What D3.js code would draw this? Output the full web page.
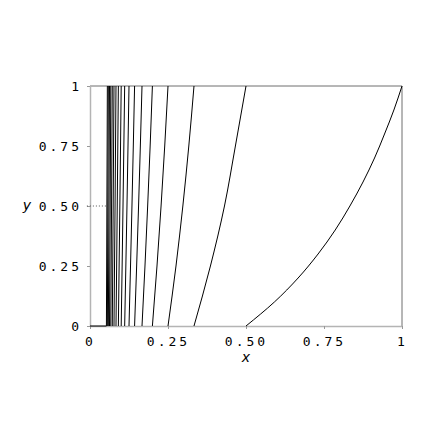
<!DOCTYPE html>
<html lang="en">
<head>
<meta charset="utf-8">
<script src="https://d3js.org/d3.v7.min.js"></script>
<style>
	body { margin: 0; background: #fff; }
	svg { background: #fff; }
	.curve { fill: none; stroke: #000; stroke-width: 1px; }
	.tick text { font-family: 'DejaVu Sans Mono', monospace; font-size: 13px; letter-spacing: 3px; fill: #000; }
	.tick line { stroke: #999; }
	.domain { stroke: #b4b4b4; stroke-width: 1.5px; }
	.frame { stroke: #6e6e6e; stroke-width: 1px; }
	.axis-label { font-family: 'DejaVu Sans', sans-serif; font-style: italic; font-size: 14px; }
</style>
</head>
<body>
<div id="chart"></div>
<script>

var width = 436, height = 436;

// the big curve on the right, read at finer y steps
var yLevelsFine = [0, 0.1, 0.2, 0.3, 0.4, 0.5, 0.6, 0.7, 0.8, 0.9, 1];
var firstCurveX = [0.5, 0.591, 0.667, 0.731, 0.786, 0.833, 0.875, 0.912, 0.944, 0.974, 1];

// the rest of the curves, read at these y levels
var yLevels = [0, 0.25, 0.5, 0.75, 1];
var curveX = [
	[0.3333, 0.386, 0.431, 0.466, 0.5],
	[0.25, 0.2756, 0.2976, 0.3167, 0.3333],
	[0.2, 0.2147, 0.2278, 0.2395, 0.25],
	[0.1667, 0.1762, 0.1848, 0.1928, 0.2],
	[0.1429, 0.1495, 0.1557, 0.1614, 0.1667],
	[0.125, 0.1299, 0.1345, 0.1388, 0.1429],
	[0.1111, 0.1149, 0.1185, 0.1218, 0.125],
	[0.1, 0.103, 0.1058, 0.1085, 0.1111],
	[0.0909, 0.0933, 0.0957, 0.0979, 0.1],
	[0.0833, 0.0854, 0.0873, 0.0891, 0.0909],
	[0.0769, 0.0786, 0.0803, 0.0818, 0.0833],
	[0.0714, 0.0729, 0.0743, 0.0756, 0.0769],
	[0.0667, 0.0679, 0.0691, 0.0703, 0.0714],
	[0.0625, 0.0636, 0.0647, 0.0657, 0.0667],
	[0.0588, 0.0598, 0.0607, 0.0616, 0.0625],
	[0.0556, 0.0564, 0.0572, 0.0580, 0.0588],
	[0.0526, 0.0534, 0.0541, 0.0549, 0.0556]
];

// short segments near x = 0
var baseSegX = [0, 0.0526];
var baseSegY = 0;
var dotSegX = [-0.01, 0.0526];
var dotSegY = 0.5;

var tickValues = [0, 0.25, 0.5, 0.75, 1];
var tickLabels = ["0", "0.25", "0.50", "0.75", "1"];

var margin = {left: 90, right: 34, top: 86, bottom: 110};

var x = d3.scaleLinear().domain([0, 1]).range([margin.left, width - margin.right]);
var y = d3.scaleLinear().domain([0, 1]).range([height - margin.bottom, margin.top]);

var svg = d3.select("#chart").append("svg")
	.attr("width", width)
	.attr("height", height);

// top and right border
svg.append("line").attr("class", "frame")
	.attr("x1", x(0)).attr("x2", x(1)).attr("y1", y(1)).attr("y2", y(1));
svg.append("line").attr("class", "frame")
	.attr("x1", x(1)).attr("x2", x(1)).attr("y1", y(0)).attr("y2", y(1));

var xAxis = d3.axisBottom(x)
	.tickValues(tickValues)
	.tickFormat(function(d, i) { return tickLabels[i]; })
	.tickSizeInner(3).tickSizeOuter(0).tickPadding(8);

var yAxis = d3.axisLeft(y)
	.tickValues(tickValues)
	.tickFormat(function(d, i) { return tickLabels[i]; })
	.tickSizeInner(3).tickSizeOuter(0).tickPadding(5);

svg.append("g")
	.attr("transform", "translate(0," + y(0) + ")")
	.call(xAxis)
	.selectAll("text").attr("font-family", null).attr("font-size", null);

svg.append("g")
	.attr("transform", "translate(" + x(0) + ",0)")
	.call(yAxis)
	.selectAll("text").attr("font-family", null).attr("font-size", null);

var line = d3.line()
	.x(function(d) { return x(d[0]); })
	.y(function(d) { return y(d[1]); })
	.curve(d3.curveMonotoneY);

var g = svg.append("g");

g.append("path")
	.attr("class", "curve")
	.attr("d", line(firstCurveX.map(function(v, i) { return [v, yLevelsFine[i]]; })));

g.selectAll(".curve-n")
	.data(curveX)
	.enter()
	.append("path")
	.attr("class", "curve curve-n")
	.attr("d", function(xs) {
		return line(xs.map(function(v, i) { return [v, yLevels[i]]; }));
	});

svg.append("line")
	.attr("x1", x(baseSegX[0])).attr("x2", x(baseSegX[1]))
	.attr("y1", y(baseSegY)).attr("y2", y(baseSegY))
	.style("stroke", "#000").style("stroke-width", 1);

svg.append("line")
	.attr("x1", x(dotSegX[0])).attr("x2", x(dotSegX[1]))
	.attr("y1", y(dotSegY)).attr("y2", y(dotSegY))
	.style("stroke", "#555").style("stroke-width", 1)
	.style("stroke-dasharray", "1,2");

svg.append("text").attr("class", "axis-label")
	.attr("x", x(0.5)).attr("y", 362)
	.attr("text-anchor", "middle")
	.text("x");

svg.append("text").attr("class", "axis-label")
	.attr("x", 27).attr("y", y(0.5))
	.attr("dy", "0.32em")
	.attr("text-anchor", "middle")
	.text("y");

</script>
</body>
</html>
